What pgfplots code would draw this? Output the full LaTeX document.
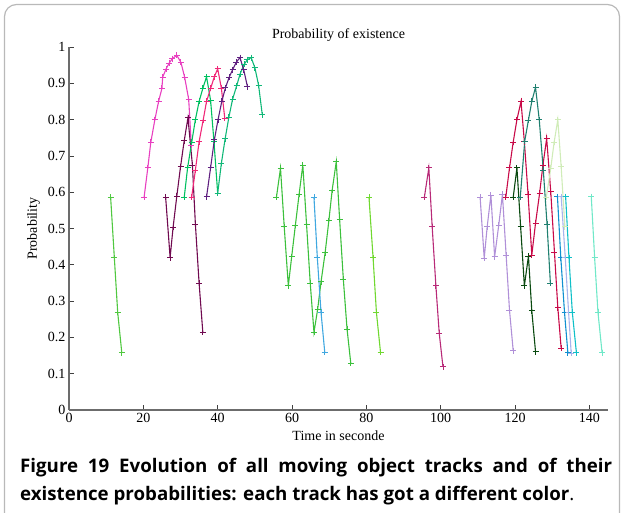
\documentclass[border=0pt]{standalone}
\usepackage{pgfplots}
\pgfplotsset{compat=1.18}
\usepackage{fontspec}
\setmainfont{Liberation Serif}
\newfontfamily\capfont{Open Sans}
\definecolor{cA}{HTML}{50C840}
\definecolor{cB}{HTML}{E840C0}
\definecolor{cC}{HTML}{700A50}
\definecolor{cD}{HTML}{00C060}
\definecolor{cE}{HTML}{10B878}
\definecolor{cF}{HTML}{F02878}
\definecolor{cG}{HTML}{602080}
\definecolor{cH}{HTML}{3CC03C}
\definecolor{cI}{HTML}{40A8E0}
\definecolor{cJ}{HTML}{70D830}
\definecolor{cK}{HTML}{B82A78}
\definecolor{cL}{HTML}{B090D8}
\definecolor{cM}{HTML}{C80A48}
\definecolor{cN}{HTML}{0A4A10}
\definecolor{cO}{HTML}{208070}
\definecolor{cP}{HTML}{D0ECB8}
\definecolor{cQ}{HTML}{1090D0}
\definecolor{cR}{HTML}{A8B4EC}
\definecolor{cS}{HTML}{10C0C8}
\definecolor{cT}{HTML}{70E8C8}
\begin{document}
\begin{tikzpicture}[x=1pt,y=1pt]
\useasboundingbox (0,0) rectangle (624,512);
\draw[gray!55, line width=1.2pt, rounded corners=12pt] (4.5,-20) rectangle (619.5,507.5);
\begin{axis}[
  at={(69pt,102pt)}, anchor=south west, scale only axis,
  width=539pt, height=363pt,
  xmin=0, xmax=145, ymin=0, ymax=1,
  axis x line=bottom, axis y line=left,
  axis line style={-, draw=gray!85!black, line width=1.6pt},
  xtick={0,20,40,60,80,100,120,140},
  ytick={0,0.1,0.2,0.3,0.4,0.5,0.6,0.7,0.8,0.9,1},
  yticklabels={0,0.1,0.2,0.3,0.4,0.5,0.6,0.7,0.8,0.9,1},
  tick align=inside, major tick length=5pt,
  tick style={black!75, line width=0.7pt},
  /pgf/number format/assume math mode=true,
  tick label style={font=\fontsize{14}{16}\selectfont},
  label style={font=\fontsize{14}{16}\selectfont},
  title style={font=\fontsize{14}{16}\selectfont, at={(0.5,1)}, anchor=south, yshift=-4pt},
  title={Probability of existence},
  xlabel={Time in seconde},
  ylabel={Probability},
  xlabel style={at={(axis description cs:0.5,0)}, anchor=north, inner sep=0pt, yshift=-21pt},
  ylabel style={at={(axis description cs:0,0.5)}, anchor=south, inner sep=0pt, yshift=29pt},
  every axis plot/.append style={line width=1.1pt, mark=+, mark size=3pt, mark options={line width=0.9pt}},
  clip=false,
]
\addplot[cA] coordinates {(11.2,0.586)(12.2,0.419)(13.1,0.269)(14.2,0.158)};
\addplot[cB] coordinates {(20.2,0.586)(21.2,0.667)(22.0,0.737)(23.1,0.80)(24.1,0.85)(25.0,0.886)(25.2,0.917)(26.1,0.939)(26.9,0.955)(27.8,0.968)(29.0,0.977)(30.1,0.958)(31.1,0.917)(32.2,0.856)(32.9,0.73)};
\addplot[cC] coordinates {(26.0,0.586)(27.2,0.42)(28.0,0.503)(29.0,0.589)(30.0,0.67)(31.0,0.742)(32.0,0.805)(33.2,0.675)(34.0,0.512)(35.0,0.349)(36.0,0.214)};
\addplot[cD] coordinates {(31.0,0.586)(31.9,0.667)(33.0,0.737)(34.0,0.80)(35.0,0.85)(36.0,0.886)(37.0,0.918)(38.1,0.852)(39.0,0.739)(40.0,0.597)};
\addplot[cE] coordinates {(40.0,0.597)(41.0,0.68)(42.0,0.747)(43.0,0.806)(44.0,0.856)(45.1,0.893)(46.0,0.925)(47.1,0.952)(48.0,0.965)(49.0,0.971)(50.0,0.943)(51.0,0.895)(52.0,0.813)};
\addplot[cF] coordinates {(33.0,0.586)(34.0,0.661)(35.0,0.739)(36.1,0.799)(37.0,0.85)(38.1,0.886)(39.1,0.918)(40.0,0.940)(41.0,0.886)(41.9,0.804)};
\addplot[cG] coordinates {(37.0,0.587)(38.1,0.668)(39.1,0.744)(40.1,0.80)(41.1,0.85)(42.1,0.888)(43.1,0.917)(44.0,0.937)(45.0,0.958)(46.0,0.971)(47.0,0.937)(48.0,0.891)};
\addplot[cH] coordinates {(55.8,0.586)(56.9,0.666)(57.9,0.505)(59.0,0.342)(59.9,0.422)(60.9,0.509)(61.9,0.594)(62.9,0.675)(63.9,0.512)(64.9,0.349)(65.9,0.214)(66.9,0.278)(67.8,0.353)(68.9,0.433)(69.9,0.521)(70.8,0.606)(71.9,0.684)(72.8,0.525)(73.8,0.36)(74.8,0.223)(75.8,0.129)};
\addplot[cI] coordinates {(65.9,0.586)(66.8,0.42)(67.8,0.269)(68.8,0.159)};
\addplot[cJ] coordinates {(80.7,0.586)(81.8,0.42)(82.7,0.269)(83.8,0.159)};
\addplot[cK] coordinates {(95.6,0.586)(96.8,0.667)(97.7,0.505)(98.7,0.342)(99.6,0.211)(100.6,0.119)};
\addplot[cL] coordinates {(110.6,0.586)(111.7,0.418)(112.5,0.505)(113.5,0.592)(114.5,0.422)(115.6,0.509)(116.6,0.594)(117.6,0.426)(118.5,0.275)(119.5,0.163)};
\addplot[cM] coordinates {(117.5,0.586)(118.5,0.667)(119.5,0.738)(120.5,0.80)(121.6,0.85)(122.5,0.739)(123.5,0.594)(124.5,0.427)(125.5,0.514)(126.6,0.597)(127.5,0.675)(128.5,0.748)(129.6,0.601)(130.6,0.434)(131.5,0.282)(132.4,0.17)};
\addplot[cN] coordinates {(119.5,0.586)(120.5,0.667)(121.5,0.505)(122.5,0.342)(123.6,0.424)(124.5,0.273)(125.5,0.161)};
\addplot[cO] coordinates {(121.4,0.586)(122.6,0.741)(123.6,0.799)(124.5,0.85)(125.5,0.889)(126.5,0.80)(127.6,0.66)(128.6,0.512)(129.5,0.349)};
\addplot[cP] coordinates {(128.4,0.586)(129.6,0.666)(130.5,0.737)(131.5,0.80)(132.4,0.67)(133.4,0.505)};
\addplot[cQ] coordinates {(131.4,0.588)(132.3,0.42)(133.3,0.269)(134.2,0.158)};
\addplot[cR] coordinates {(132.4,0.588)(133.5,0.42)(134.4,0.269)(135.1,0.156)};
\addplot[cS] coordinates {(133.6,0.588)(134.5,0.42)(135.4,0.269)(136.5,0.158)};
\addplot[cT] coordinates {(140.5,0.588)(141.4,0.42)(142.3,0.269)(143.4,0.158)};
\end{axis}
\node[anchor=base west, inner sep=0pt, font=\capfont\fontsize{18.7}{28}\selectfont] at (20,40) {\makebox[592pt][s]{\bfseries Figure 19 Evolution of all moving object tracks and of their}};
\node[anchor=base west, inner sep=0pt, font=\capfont\fontsize{18.7}{28}\selectfont] at (20,12) {\bfseries existence probabilities: each track has got a different color\mdseries.};
\end{tikzpicture}
\end{document}
